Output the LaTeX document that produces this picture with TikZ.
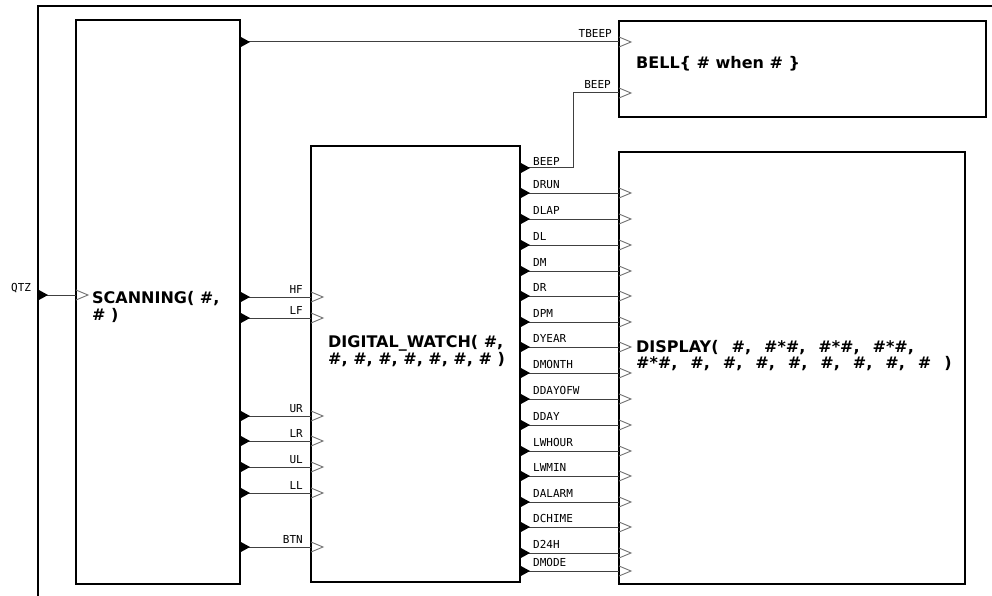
\documentclass[tikz,border=0pt]{standalone}
\usepackage{fontspec}
\newfontfamily\ttlfont{DejaVu Sans}
\newfontfamily\lblfont{DejaVu Sans Mono}
\newcommand\dispttlfont{\ttlfont\bfseries\fontsize{16}{16}\selectfont\spaceskip 13pt\relax}
\begin{document}
\begin{tikzpicture}[x=1pt,y=-1pt,
  blk/.style={draw=black, line width=2pt, fill=white, inner sep=0pt},
  frame/.style={draw=black, line width=2pt},
  wire/.style={draw=black!75, line width=1pt},
  ttl/.style={font=\ttlfont\bfseries\fontsize{16}{17}\selectfont, inner sep=0pt, align=left},
  plab/.style={font=\lblfont\fontsize{11}{11}\selectfont, inner sep=0pt},
  otri/.pic={\fill[black] (0,-5.5) -- (10,0) -- (0,5.5) -- cycle;},
  itri/.pic={\draw[black!55, line width=0.9pt, line join=miter] (0,-5) -- (12,0) -- (0,5);}
]
\useasboundingbox (0,0) rectangle (992,596);
\fill[white] (0,0) rectangle (992,596);

% outer frame
\coordinate (fb) at (38,596);
\coordinate (ftl) at (38,6);
\coordinate (fr) at (992,6);
\draw[frame] (fb) -- (ftl) -- (fr);

% blocks
\node[blk, minimum width=164pt, minimum height=564pt] (scan) at (158,302) {};
\node[blk, minimum width=209pt, minimum height=436pt] (dw) at (415.5,364) {};
\node[blk, minimum width=367pt, minimum height=96pt] (bell) at (802.5,69) {};
\node[blk, minimum width=346pt, minimum height=432pt] (disp) at (792,368) {};

% titles (base anchor = baseline of last line)
\node[ttl, anchor=base west] (tscan) at (92,320) {SCANNING( \#,\\ \# )};
\node[ttl, anchor=base west] (tdw) at (328,364) {DIGITAL\_WATCH( \#,\\\#, \#, \#, \#, \#, \#, \# )};
\node[ttl, anchor=base west] (tbell) at (636,69) {BELL\{ \# when \# \}};
\node[ttl, anchor=base west, font=\dispttlfont] (tdisp) at (636,368) {DISPLAY( \#, \#*\#, \#*\#, \#*\#,\\\#*\#, \#, \#, \#, \#, \#, \#, \#, \# )};

% QTZ input
\coordinate (qa) at (38,295);
\coordinate (qb) at (76,295);
\draw[wire] (qa) -- (qb);
\pic at (qa) {otri};
\pic at (qb) {itri};
\node[plab, anchor=base west] (lqtz) at (11,291) {QTZ};

% TBEEP
\coordinate (ta) at (240,42);
\coordinate (tb) at (619,42);
\draw[wire] (ta) -- (tb);
\pic at (ta) {otri};
\pic at (tb) {itri};
\node[plab, anchor=base east] (ltbeep) at (612,38) {TBEEP};

% BEEP
\coordinate (ba) at (520,168);
\coordinate (bk1) at (573,168);
\coordinate (bk2) at (573,93);
\coordinate (bb) at (619,93);
\draw[wire] (ba) -- (bk1) -- (bk2) -- (bb);
\pic at (ba) {otri};
\pic at (bb) {itri};
\node[plab, anchor=base west] (lbeepo) at (533,165) {BEEP};
\node[plab, anchor=base east] (lbeepi) at (611,89) {BEEP};

% SCANNING -> DIGITAL_WATCH
\foreach \n/\y in {HF/297,LF/318,UR/416,LR/441,UL/467,LL/493,BTN/547}{
  \coordinate (s\n) at (240,\y);
  \coordinate (d\n) at (311,\y);
  \draw[wire] (s\n) -- (d\n);
  \pic at (s\n) {otri};
  \pic at (d\n) {itri};
  \node[plab, anchor=base east] (l\n) at (303,\y-4) {\n};
}

% DIGITAL_WATCH -> DISPLAY
\foreach \n/\y in {DRUN/193,DLAP/219,DL/245,DM/271,DR/296,DPM/322,DYEAR/347,DMONTH/373,DDAYOFW/399,DDAY/425,LWHOUR/451,LWMIN/476,DALARM/502,DCHIME/527,D24H/553,DMODE/571}{
  \coordinate (o\n) at (520,\y);
  \coordinate (i\n) at (619,\y);
  \draw[wire] (o\n) -- (i\n);
  \pic at (o\n) {otri};
  \pic at (i\n) {itri};
  \node[plab, anchor=base west] (m\n) at (533,\y-5) {\n};
}
\end{tikzpicture}
\end{document}
